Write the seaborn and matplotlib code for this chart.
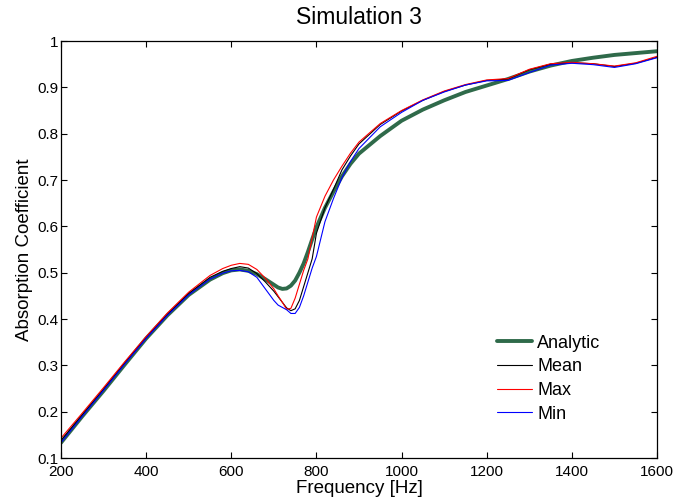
import matplotlib
matplotlib.use("Agg")
import matplotlib.pyplot as plt
import seaborn as sns
import pandas as pd

freq = [200, 250, 300, 350, 400, 450, 500, 550, 580, 600, 620, 640, 660, 680, 700,
        710, 720, 730, 740, 750, 760, 770, 780, 790, 800, 820, 840, 860, 880, 900,
        950, 1000, 1050, 1100, 1150, 1200, 1250, 1300, 1350, 1400, 1450, 1500, 1550, 1600]

analytic = [0.133, 0.190, 0.245, 0.302, 0.358, 0.408, 0.452, 0.485, 0.499, 0.505, 0.507, 0.504, 0.497, 0.486, 0.474,
            0.468, 0.465, 0.466, 0.472, 0.483, 0.500, 0.520, 0.545, 0.572, 0.598, 0.640, 0.675, 0.708, 0.735, 0.757,
            0.795, 0.828, 0.852, 0.872, 0.890, 0.904, 0.918, 0.934, 0.947, 0.957, 0.964, 0.970, 0.974, 0.978]

mean = [0.138, 0.193, 0.248, 0.305, 0.360, 0.410, 0.455, 0.490, 0.503, 0.509, 0.513, 0.510, 0.498, 0.480, 0.460,
        0.448, 0.436, 0.424, 0.418, 0.422, 0.440, 0.470, 0.500, 0.530, 0.585, 0.640, 0.680, 0.722, 0.752, 0.778,
        0.820, 0.849, 0.872, 0.891, 0.905, 0.915, 0.918, 0.938, 0.950, 0.953, 0.951, 0.945, 0.952, 0.965]

maxv = [0.143, 0.197, 0.252, 0.308, 0.362, 0.413, 0.458, 0.494, 0.509, 0.516, 0.520, 0.518, 0.507, 0.488, 0.465,
        0.450, 0.436, 0.421, 0.423, 0.445, 0.475, 0.505, 0.530, 0.575, 0.620, 0.665, 0.700, 0.730, 0.758, 0.782,
        0.822, 0.850, 0.873, 0.892, 0.906, 0.916, 0.919, 0.939, 0.951, 0.954, 0.951, 0.946, 0.953, 0.967]

minv = [0.133, 0.190, 0.246, 0.303, 0.358, 0.408, 0.452, 0.486, 0.499, 0.504, 0.505, 0.502, 0.490, 0.465, 0.440,
        0.430, 0.425, 0.420, 0.412, 0.412, 0.425, 0.450, 0.480, 0.510, 0.535, 0.610, 0.660, 0.705, 0.740, 0.768,
        0.815, 0.846, 0.872, 0.890, 0.905, 0.914, 0.915, 0.932, 0.948, 0.952, 0.949, 0.943, 0.951, 0.964]

series_names = ["Analytic", "Mean", "Max", "Min"]
series_values = [analytic, mean, maxv, minv]
colors = {"Analytic": "#2f6a4a", "Mean": "#000000", "Max": "#ff0000", "Min": "#0000ff"}
widths = {"Analytic": 2.8, "Mean": 0.8, "Max": 0.8, "Min": 0.8}

sns.set_theme(style="white")
plt.rcParams["font.family"] = ["Liberation Sans", "DejaVu Sans"]
plt.rcParams["text.color"] = "black"
plt.rcParams["axes.labelcolor"] = "black"
plt.rcParams["xtick.color"] = "black"
plt.rcParams["ytick.color"] = "black"

fig = plt.figure(figsize=(6.8, 5.01), dpi=100)
ax = fig.add_axes([0.0897, 0.0858, 0.8765, 0.8323])

for name, vals in zip(series_names, series_values):
    df = pd.DataFrame({"Frequency": freq, "Absorption": vals})
    sns.lineplot(data=df, x="Frequency", y="Absorption", ax=ax, color=colors[name],
                 linewidth=widths[name], label=name, estimator=None, sort=False)

ax.set_xlim(200, 1600)
ax.set_ylim(0.1, 1.0)
ax.set_xticks(range(200, 1601, 200))
ax.set_yticks([0.1, 0.2, 0.3, 0.4, 0.5, 0.6, 0.7, 0.8, 0.9, 1.0])
ax.set_yticklabels(["0.1", "0.2", "0.3", "0.4", "0.5", "0.6", "0.7", "0.8", "0.9", "1"])
ax.tick_params(direction="in", length=4, width=0.8, top=True, right=True,
               bottom=True, left=True, labelsize=11, pad=2, colors="black")
ax.tick_params(axis="x", pad=5)
for s in ax.spines.values():
    s.set_color("black")
    s.set_linewidth(0.9)

ax.set_xlabel("Frequency [Hz]", fontsize=13.5, labelpad=1)
ax.set_ylabel("Absorption Coefficient", fontsize=13.5, labelpad=3)
ax.set_title("Simulation 3", fontsize=16.5, pad=12)

leg = ax.legend(loc="lower right", bbox_to_anchor=(0.905, 0.085), frameon=False,
                fontsize=13, handlelength=1.9, handletextpad=0.3, labelspacing=0.37,
                borderaxespad=0, borderpad=0)

fig.savefig("out.png", dpi=100, facecolor="white")
